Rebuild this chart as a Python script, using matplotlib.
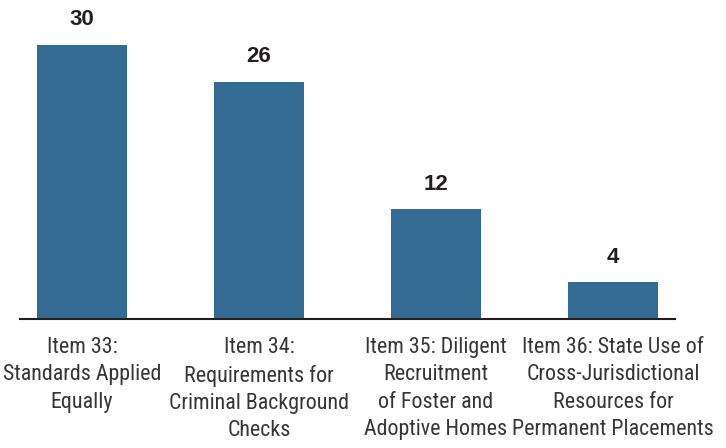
import matplotlib
matplotlib.use("Agg")
import matplotlib.pyplot as plt

categories = [
    "Item 33:\nStandards Applied\nEqually",
    "Item 34:\nRequirements for\nCriminal Background\nChecks",
    "Item 35: Diligent\nRecruitment\nof Foster and\nAdoptive Homes",
    "Item 36: State Use of\nCross-Jurisdictional\nResources for\nPermanent Placements",
]
values = [30, 26, 12, 4]

fig = plt.figure(figsize=(7.26, 4.48), dpi=100)
ax = fig.add_axes([20 / 726, 1 - 319 / 448, 655 / 726, 274 / 448])

x = list(range(len(values)))
bars = ax.bar(x, values, width=0.507, color="#336b93")
ax.set_xlim(-0.35, 3.35)
ax.set_ylim(0, 30)

for rect, v in zip(bars, values):
    ax.annotate(str(v), (rect.get_x() + rect.get_width() / 2, v),
                xytext=(0, 10.5), textcoords="offset points",
                ha="center", va="bottom", fontsize=16, fontweight="bold",
                family=["Liberation Sans", "DejaVu Sans"], color="#231f20",
                clip_on=False)

ax.set_xticks(x)
ax.set_xticklabels(categories, family=["Roboto Condensed", "Archivo Narrow", "DejaVu Sans"],
                   fontsize=15.8, color="#363636", linespacing=1.39)
ax.tick_params(axis="x", length=0, pad=13)
ax.set_yticks([])
for s in ["top", "right", "left"]:
    ax.spines[s].set_visible(False)
ax.spines["bottom"].set_color("#231f20")
ax.spines["bottom"].set_linewidth(1.5)

fig.savefig("out.png", dpi=100)
